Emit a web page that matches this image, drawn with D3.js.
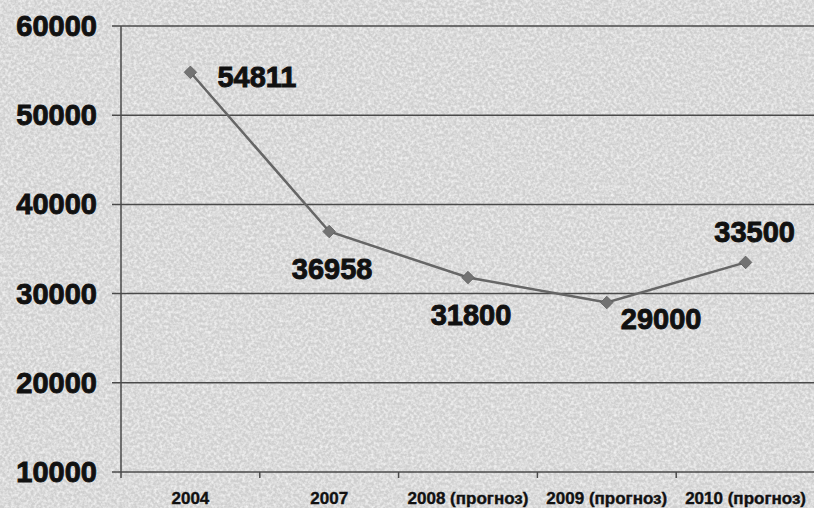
<!DOCTYPE html>
<html>
<head>
<meta charset="utf-8">
<script src="https://cdn.jsdelivr.net/npm/d3@7"></script>
<style>
  html, body { margin: 0; padding: 0; background: #d4d4d4; }
  svg { display: block; }
</style>
</head>
<body>
<svg id="chart"></svg>
<script>
const years = ["2004", "2007", "2008 (прогноз)", "2009 (прогноз)", "2010 (прогноз)"];
const values = [54811, 36958, 31800, 29000, 33500];
const yTicks = [10000, 20000, 30000, 40000, 50000, 60000];
// where each value label sits relative to its point
const labelSide = ["right", "below", "below", "belowRight", "above"];

const width = 814;
const height = 508;
const plotLeft = 121, plotRight = 815, plotTop = 26, plotBottom = 472;

const svg = d3.select("#chart").attr("width", width).attr("height", height);

// textured grey background, fine light speckle
const defs = svg.append("defs");
const f = defs.append("filter").attr("id", "paper").attr("x", 0).attr("y", 0).attr("width", 1).attr("height", 1);
f.append("feTurbulence").attr("type", "fractalNoise").attr("baseFrequency", 0.35).attr("numOctaves", 2).attr("seed", 7).attr("result", "noise");
f.append("feColorMatrix").attr("in", "noise").attr("type", "matrix")
  .attr("values", "0 0 0 0 0.95  0 0 0 0 0.95  0 0 0 0 0.95  1.6 0 0 0 -0.55")
  .attr("result", "spots");
f.append("feComposite").attr("in", "spots").attr("in2", "SourceGraphic").attr("operator", "over");

svg.append("rect").attr("width", width).attr("height", height).attr("fill", "#cfcfcf").attr("filter", "url(#paper)");

const x = d3.scaleBand().domain(years).range([plotLeft, plotRight]).padding(0);
const y = d3.scaleLinear().domain([10000, 60000]).range([plotBottom, plotTop]);

// horizontal grid lines
svg.append("g")
  .selectAll("line")
  .data(yTicks)
  .enter()
  .append("line")
  .attr("x1", plotLeft - 9)
  .attr("x2", width)
  .attr("y1", (d) => y(d))
  .attr("y2", (d) => y(d))
  .attr("stroke", "#4a4a4a")
  .attr("stroke-width", 1.5);

// y axis line
svg.append("line")
  .attr("x1", plotLeft).attr("x2", plotLeft)
  .attr("y1", plotTop).attr("y2", plotBottom)
  .attr("stroke", "#4a4a4a").attr("stroke-width", 1.5);

// x axis ticks at category boundaries
const boundaries = years.map((d) => x(d)).concat([plotRight]);
svg.append("g")
  .selectAll("line")
  .data(boundaries)
  .enter()
  .append("line")
  .attr("x1", (d) => d).attr("x2", (d) => d)
  .attr("y1", plotBottom).attr("y2", plotBottom + 6)
  .attr("stroke", "#4a4a4a").attr("stroke-width", 1.5);

// y labels
svg.append("g")
  .selectAll("text")
  .data(yTicks)
  .enter()
  .append("text")
  .attr("x", 97)
  .attr("y", (d) => y(d) + 10)
  .attr("text-anchor", "end")
  .attr("font-family", "Liberation Sans, Arial, sans-serif")
  .attr("font-weight", "bold")
  .attr("font-size", 29)
  .attr("fill", "#111")
  .attr("stroke", "#111")
  .attr("stroke-width", 0.9)
  .text((d) => d);

// x labels
svg.append("g")
  .selectAll("text")
  .data(years)
  .enter()
  .append("text")
  .attr("x", (d) => x(d) + x.bandwidth() / 2)
  .attr("y", 504)
  .attr("text-anchor", "middle")
  .attr("font-family", "Liberation Sans Narrow, Arial Narrow, sans-serif")
  .attr("font-weight", "bold")
  .attr("font-size", 17)
  .attr("fill", "#111")
  .attr("stroke", "#111")
  .attr("stroke-width", 0.4)
  .text((d) => d);

const cx = (i) => x(years[i]) + x.bandwidth() / 2;

// line
const line = d3.line().x((d, i) => cx(i)).y((d) => y(d));
svg.append("path")
  .datum(values)
  .attr("d", line)
  .attr("fill", "none")
  .attr("stroke", "#666")
  .attr("stroke-width", 2.5);

// diamond markers
svg.append("g")
  .selectAll("path")
  .data(values)
  .enter()
  .append("path")
  .attr("d", d3.symbol().type(d3.symbolDiamond2).size(100))
  .attr("transform", (d, i) => `translate(${cx(i)},${y(d)})`)
  .attr("fill", "#737373")
  .attr("stroke", "#606060")
  .attr("stroke-width", 0.8);

// value labels
const offsets = {
  right: { dx: 27, dy: 15, anchor: "start" },
  below: { dx: 3, dy: 47, anchor: "middle" },
  belowRight: { dx: 14, dy: 26, anchor: "start" },
  above: { dx: 9, dy: -20, anchor: "middle" }
};
svg.append("g")
  .selectAll("text")
  .data(values)
  .enter()
  .append("text")
  .attr("x", (d, i) => cx(i) + offsets[labelSide[i]].dx)
  .attr("y", (d, i) => y(d) + offsets[labelSide[i]].dy)
  .attr("text-anchor", (d, i) => offsets[labelSide[i]].anchor)
  .attr("font-family", "Liberation Sans, Arial, sans-serif")
  .attr("font-weight", "bold")
  .attr("font-size", 29)
  .attr("fill", "#111")
  .attr("stroke", "#111")
  .attr("stroke-width", 0.9)
  .text((d) => d);
</script>
</body>
</html>
